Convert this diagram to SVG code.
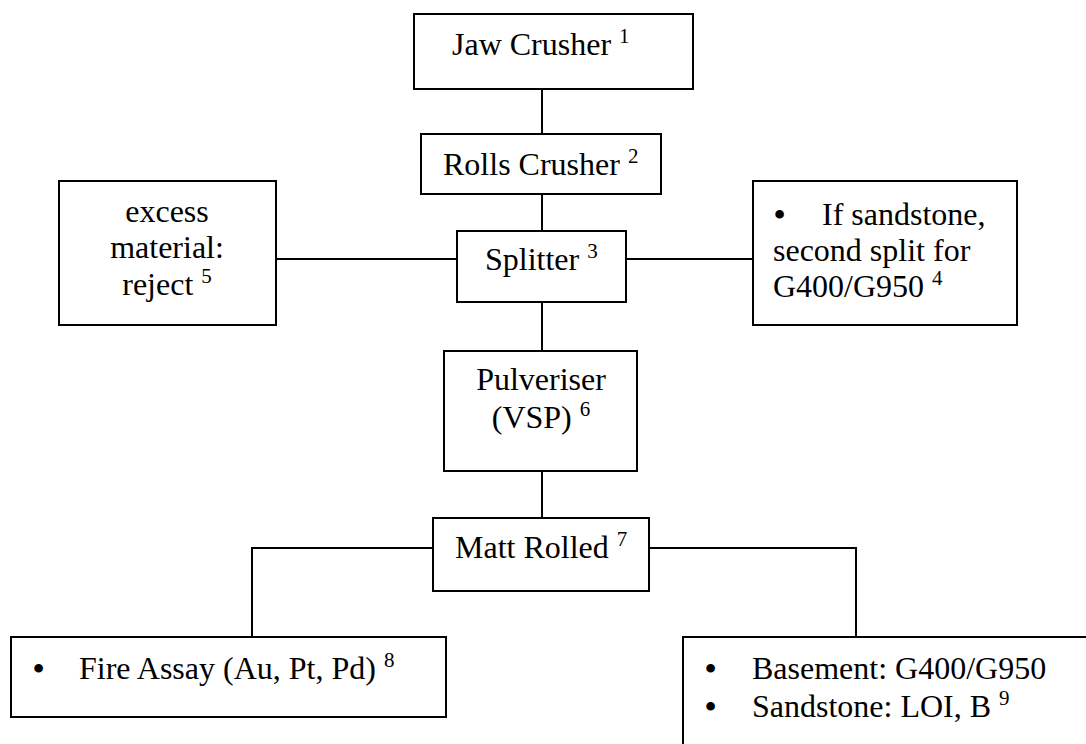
<svg xmlns="http://www.w3.org/2000/svg" width="1086" height="744" viewBox="0 0 1086 744">
<style>
.box{fill:#fff;stroke:#000;stroke-width:2}
.t{font-family:"Liberation Serif","Times New Roman",serif;font-size:32px;fill:#000}
.s{font-size:21px}
.b{font-weight:bold}
.c{stroke:#000;stroke-width:2;fill:none}
</style>
<rect width="1086" height="744" fill="#fff"/>
<g id="connectors">
<path class="c" d="M542,89V134"/>
<path class="c" d="M542,194V231"/>
<path class="c" d="M457,259H276"/>
<path class="c" d="M626,259H753"/>
<path class="c" d="M542,302V351"/>
<path class="c" d="M542,471V518"/>
<path class="c" d="M433,548H252V637"/>
<path class="c" d="M649,548H856V637"/>
</g>
<g id="jaw">
<rect class="box" x="414" y="14" width="279" height="75"/>
<text class="t" x="452" y="55">Jaw Crusher <tspan class="s" dy="-12">1</tspan></text>
</g>
<g id="rolls">
<rect class="box" x="421" y="134" width="240" height="60"/>
<text class="t" x="443" y="175">Rolls Crusher <tspan class="s" dy="-12">2</tspan></text>
</g>
<g id="splitter">
<rect class="box" x="457" y="231" width="169" height="71"/>
<text class="t" x="485" y="270">Splitter <tspan class="s" dy="-12">3</tspan></text>
</g>
<g id="reject">
<rect class="box" x="59" y="181" width="217" height="144"/>
<text class="t" x="167" y="222" text-anchor="middle">excess</text>
<text class="t" x="167" y="258" text-anchor="middle">material:</text>
<text class="t" x="167" y="295" text-anchor="middle">reject <tspan class="s" dy="-12">5</tspan></text>
</g>
<g id="second-split">
<rect class="box" x="753" y="181" width="264" height="144"/>
<text class="t" x="774" y="225"><tspan class="b">•</tspan><tspan x="822">If sandstone,</tspan></text>
<text class="t" x="773" y="261">second split for</text>
<text class="t" x="773" y="297">G400/G950 <tspan class="s" dy="-12">4</tspan></text>
</g>
<g id="pulveriser">
<rect class="box" x="444" y="351" width="193" height="120"/>
<text class="t" x="541" y="390" text-anchor="middle">Pulveriser</text>
<text class="t" x="541" y="428" text-anchor="middle">(VSP) <tspan class="s" dy="-12">6</tspan></text>
</g>
<g id="matt">
<rect class="box" x="433" y="518" width="216" height="73"/>
<text class="t" x="455" y="558">Matt Rolled <tspan class="s" dy="-12">7</tspan></text>
</g>
<g id="fire-assay">
<rect class="box" x="11" y="637" width="435" height="80"/>
<text class="t" x="33" y="679"><tspan class="b">•</tspan><tspan x="79">Fire Assay (Au, Pt, Pd) </tspan><tspan class="s" dy="-12">8</tspan></text>
</g>
<g id="analyses">
<rect class="box" x="683" y="637" width="420" height="130"/>
<text class="t" x="705" y="679"><tspan class="b">•</tspan><tspan x="752">Basement: G400/G950</tspan></text>
<text class="t" x="705" y="717"><tspan class="b">•</tspan><tspan x="752">Sandstone: LOI, B </tspan><tspan class="s" dy="-12">9</tspan></text>
</g>
</svg>
